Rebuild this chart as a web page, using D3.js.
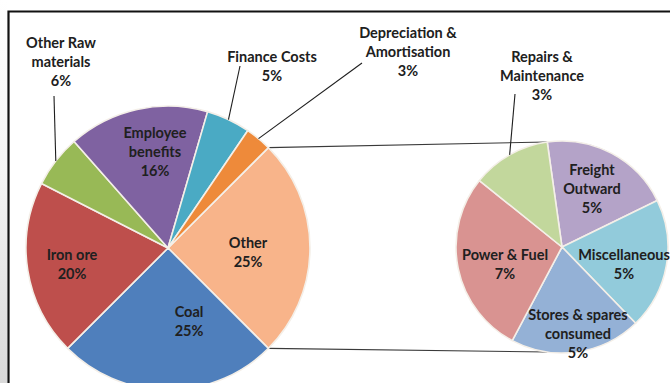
<!DOCTYPE html>
<html>
<head>
<meta charset="utf-8">
<script src="https://cdn.jsdelivr.net/npm/d3@7"></script>
<style>
  html, body { margin: 0; padding: 0; background: #fff; }
  svg { display: block; }
  text { font-family: Lato, "Open Sans", sans-serif; font-weight: 700; fill: #202020; }
</style>
</head>
<body>
<svg id="chart" width="670" height="383"></svg>
<script>
// Cost breakdown: main pie plus a secondary pie splitting "Other"
const mainCategories = ["Other", "Coal", "Iron ore", "Other Raw materials",
  "Employee benefits", "Finance Costs", "Depreciation & Amortisation"];
const mainValues = [25, 25, 20, 6, 16, 5, 3];

const subCategories = ["Freight Outward", "Miscellaneous", "Stores & spares consumed",
  "Power & Fuel", "Repairs & Maintenance"];
const subValues = [5, 5, 5, 7, 3];

const mainColors = ["#F8B48A", "#4F7FBC", "#BE4F4C", "#98B956", "#7F62A1", "#4AAAC4", "#EE8A3A"];
const subColors = ["#B4A3C8", "#92CBDB", "#94B1D6", "#D99391", "#C2D79C"];

// label layout: line breaks, anchor (centre x, first baseline), optional leader start
const mainLabelLayout = [
  { lines: ["Other"], x: 248, y: 248 },
  { lines: ["Coal"], x: 189, y: 317 },
  { lines: ["Iron ore"], x: 72, y: 260 },
  { lines: ["Other Raw", "materials"], x: 61, y: 48, leader: [54, 96] },
  { lines: ["Employee", "benefits"], x: 155, y: 138 },
  { lines: ["Finance Costs"], x: 272, y: 62, leader: [240, 66] },
  { lines: ["Depreciation &", "Amortisation"], x: 408, y: 38, leader: [362, 63] }
];
const subLabelLayout = [
  { lines: ["Freight", "Outward"], x: 592, y: 175 },
  { lines: ["Miscellaneous"], x: 624, y: 260 },
  { lines: ["Stores & spares", "consumed"], x: 578, y: 320 },
  { lines: ["Power & Fuel"], x: 505, y: 260 },
  { lines: ["Repairs &", "Maintenance"], x: 542, y: 62, leader: [515, 94] }
];

const svg = d3.select("#chart");
const W = 670, H = 383;
const lineH = 19;

// paper edge and frame
const grad = svg.append("defs").append("linearGradient")
  .attr("id", "edge").attr("x1", 0).attr("y1", 0).attr("x2", 0).attr("y2", 1);
grad.append("stop").attr("offset", "0%").attr("stop-color", "#ffffff");
grad.append("stop").attr("offset", "45%").attr("stop-color", "#f4f4f4");
grad.append("stop").attr("offset", "100%").attr("stop-color", "#d9d9d9");
svg.append("rect").attr("x", 0).attr("y", 0).attr("width", 7).attr("height", H)
  .attr("fill", "url(#edge)");

const main = { cx: 168, cy: 248, r: 142 };
const sub = { cx: 562, cy: 247, r: 106 };

const deg = Math.PI / 180;
const mainStart = 45 * deg;
const subStart = -8 * deg;

const mainPie = d3.pie().sort(null).value(d => d)
  .startAngle(mainStart).endAngle(mainStart + 2 * Math.PI);
const subPie = d3.pie().sort(null).value(d => d)
  .startAngle(subStart).endAngle(subStart + 2 * Math.PI);

const mainArcs = mainPie(mainValues);
const subArcs = subPie(subValues);

const polar = (c, r, a) => [c.cx + r * Math.sin(a), c.cy - r * Math.cos(a)];

// connector lines from the "Other" slice to the secondary pie
const other = mainArcs[0];
const connectors = [
  [polar(main, main.r, other.startAngle), polar(sub, sub.r, subStart)],
  [polar(main, main.r, other.endAngle), polar(sub, sub.r, Math.PI - subStart)]
];
svg.append("g").selectAll("line").data(connectors).join("line")
  .attr("x1", d => d[0][0]).attr("y1", d => d[0][1])
  .attr("x2", d => d[1][0]).attr("y2", d => d[1][1])
  .attr("stroke", "#3a3a3a").attr("stroke-width", 1.1);

function drawPie(center, arcs, colors) {
  const arc = d3.arc().innerRadius(0).outerRadius(center.r);
  const g = svg.append("g").attr("transform", `translate(${center.cx},${center.cy})`);
  g.selectAll("path").data(arcs).join("path")
    .attr("d", arc)
    .attr("fill", (d, i) => colors[i])
    .attr("stroke", "#f4efe8")
    .attr("stroke-width", 1.6)
    .attr("stroke-linejoin", "round");
}
drawPie(main, mainArcs, mainColors);
drawPie(sub, subArcs, subColors);

function drawLabels(center, arcs, values, layout) {
  const g = svg.append("g");
  layout.forEach((lab, i) => {
    if (lab.leader) {
      const a = (arcs[i].startAngle + arcs[i].endAngle) / 2;
      const end = polar(center, center.r, a);
      g.append("line")
        .attr("x1", lab.leader[0]).attr("y1", lab.leader[1])
        .attr("x2", end[0]).attr("y2", end[1])
        .attr("stroke", "#1e1e1e").attr("stroke-width", 1.1);
    }
    const lines = lab.lines.concat([values[i] + "%"]);
    const t = g.append("text").attr("text-anchor", "middle").attr("font-size", 14.5);
    lines.forEach((s, k) => {
      t.append("tspan").attr("x", lab.x).attr("y", lab.y + k * lineH).text(s);
    });
  });
}
drawLabels(main, mainArcs, mainValues, mainLabelLayout);
drawLabels(sub, subArcs, subValues, subLabelLayout);

// frame (top and left edges of the chart area)
svg.append("path")
  .attr("d", `M8.5,${H} V11.5 H${W}`)
  .attr("fill", "none").attr("stroke", "#111").attr("stroke-width", 2.2);
</script>
</body>
</html>
